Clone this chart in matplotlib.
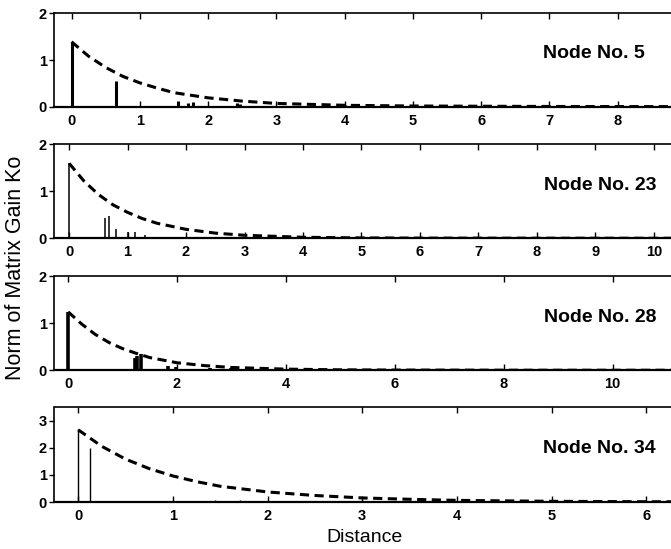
import matplotlib
matplotlib.use("Agg")
import matplotlib.pyplot as plt

plt.rcParams['font.family'] = ['Liberation Sans', 'DejaVu Sans']

# node labels
nodes = ["Node No. 5", "Node No. 23", "Node No. 28", "Node No. 34"]

# stems (distance, norm of gain) per node
stem_x_5 = [0, 0.645, 1.56, 1.70, 1.78, 2.42, 2.47, 4.0]
stem_y_5 = [1.39, 0.56, 0.13, 0.08, 0.11, 0.08, 0.05, 0.04]
stem_x_23 = [0, 0.61, 0.69, 0.80, 1.0, 1.12, 1.29]
stem_y_23 = [1.59, 0.42, 0.47, 0.19, 0.14, 0.14, 0.07]
stem_x_28 = [0, 1.22, 1.27, 1.33, 1.83, 1.99, 2.6, 3.0]
stem_y_28 = [1.24, 0.27, 0.30, 0.34, 0.10, 0.07, 0.05, 0.04]
stem_x_34 = [0, 0.126, 1.45, 1.71]
stem_y_34 = [2.69, 1.98, 0.08, 0.08]

# dashed envelope
env_x_5 = [0, 0.25, 0.5, 0.75, 1, 1.25, 1.5, 2, 2.5, 3, 4, 5, 6, 7, 8, 9]
env_y_5 = [1.39, 1.08, 0.84, 0.65, 0.51, 0.40, 0.30, 0.19, 0.12, 0.07, 0.03, 0.015, 0.01, 0.005, 0.003, 0.002]
env_x_23 = [0, 0.25, 0.5, 0.75, 1, 1.25, 1.5, 2, 2.5, 3, 4, 5, 6, 8, 10.5]
env_y_23 = [1.59, 1.22, 0.93, 0.71, 0.55, 0.42, 0.32, 0.19, 0.11, 0.064, 0.022, 0.008, 0.004, 0.002, 0.001]
env_x_28 = [0, 0.25, 0.5, 0.75, 1, 1.25, 1.5, 2, 2.5, 3, 4, 5, 6, 8, 11.3]
env_y_28 = [1.24, 0.98, 0.76, 0.59, 0.46, 0.36, 0.27, 0.16, 0.10, 0.06, 0.025, 0.01, 0.005, 0.002, 0.001]
env_x_34 = [0, 0.25, 0.5, 0.75, 1, 1.25, 1.5, 2, 2.5, 3, 3.5, 4, 5, 6, 6.4]
env_y_34 = [2.66, 2.05, 1.58, 1.23, 0.96, 0.75, 0.58, 0.37, 0.24, 0.15, 0.10, 0.06, 0.025, 0.01, 0.007]

stems_x = [stem_x_5, stem_x_23, stem_x_28, stem_x_34]
stems_y = [stem_y_5, stem_y_23, stem_y_28, stem_y_34]
envs_x = [env_x_5, env_x_23, env_x_28, env_x_34]
envs_y = [env_y_5, env_y_23, env_y_28, env_y_34]

xmaxs = [9.0, 10.55, 11.35, 6.42]
ymaxs = [2, 2, 2, 3.5]
xticks = [range(0, 9), range(0, 11), range(0, 12, 2), range(0, 7)]
yticks = [[0, 1, 2], [0, 1, 2], [0, 1, 2], [0, 1, 2, 3]]
stem_w = [2.2, 1.1, 2.6, 1.0]
# pixel rows (top, bottom) of each panel
rows = [(13.3, 106.7), (144, 238.3), (276, 370.3), (407, 502)]
text_right = [645, 656, 656, 656]

W, H = 671, 549
fig = plt.figure(figsize=(W / 100, H / 100), dpi=100)

for i in range(4):
    top, bot = rows[i]
    ax = fig.add_axes([54.5 / W, 1 - bot / H, (686 - 54.5) / W, (bot - top) / H])
    ax.vlines(stems_x[i], 0, stems_y[i], color='black', lw=stem_w[i])
    ax.plot(envs_x[i], envs_y[i], color='black', lw=2.2, dashes=(3, 1.8), dash_capstyle='butt')
    ax.set_xlim(-0.25, xmaxs[i])
    ax.set_ylim(0, ymaxs[i])
    ax.set_xticks(list(xticks[i]))
    ax.set_yticks(yticks[i])
    ax.tick_params(axis='x', direction='in', top=True, length=4.5, width=1, labelsize=10.5, pad=5)
    ax.tick_params(axis='y', direction='out', right=True, length=3.5, width=1, labelsize=10.5, pad=2)
    for lab in ax.get_xticklabels() + ax.get_yticklabels():
        lab.set_fontweight('bold')
    for s in ax.spines.values():
        s.set_linewidth(1.2)
    ax.spines['bottom'].set_linewidth(1.6)
    ymid = 1 - (bot - 0.565 * (bot - top)) / H
    fig.text(text_right[i] / W, ymid, nodes[i], ha='right', va='center',
             fontsize=14, fontweight='bold')

fig.text(16 / W, 1 - 268 / H, "Norm of Matrix Gain Ko", rotation=90,
         ha='center', va='center', fontsize=15.5)
fig.text(365 / W, 1 - 537 / H, "Distance", ha='center', va='center', fontsize=14)

fig.savefig("out.png", dpi=100)
